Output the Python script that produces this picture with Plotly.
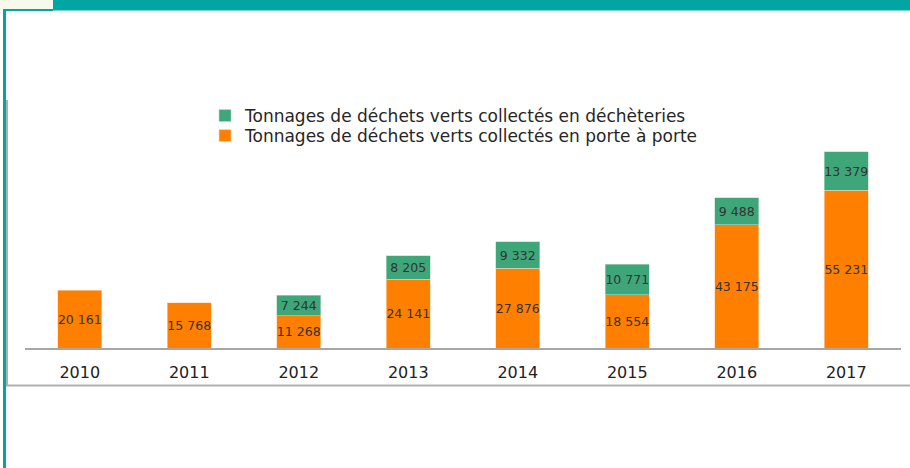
import plotly.graph_objects as go

# Tonnages of green waste collected per year
years = ["2010", "2011", "2012", "2013", "2014", "2015", "2016", "2017"]
porte_a_porte = [20161, 15768, 11268, 24141, 27876, 18554, 43175, 55231]
decheteries = [None, None, 7244, 8205, 9332, 10771, 9488, 13379]

name_pap = "Tonnages de déchets verts collectés en porte à porte"
name_dech = "Tonnages de déchets verts collectés en déchèteries"

ORANGE = "#ff7f00"
GREEN = "#3fa679"
TEAL = "#00a6a2"
LABEL = "#333333"
FONT = "DejaVu Sans"

W, H = 910, 468
ML, MR, MT, MB = 25, 9, 148, 120
PW, PH = W - ML - MR, H - MT - MB


def px(x):
    return (x - ML) / PW


def py(y):
    return (H - MB - y) / PH


fig = go.Figure()
fig.add_trace(go.Bar(
    x=years, y=porte_a_porte, name=name_pap, legend="legend2",
    marker=dict(color=ORANGE, line=dict(color="#ffd9b0", width=0.6)),
    texttemplate="%{y:,}", textposition="inside", insidetextanchor="middle",
    textangle=0, constraintext="none",
    textfont=dict(family=FONT, size=12.5, color=LABEL),
    hoverinfo="skip",
))
fig.add_trace(go.Bar(
    x=years, y=decheteries, name=name_dech, legend="legend",
    marker=dict(color=GREEN, line=dict(color="#b5dcc9", width=0.6)),
    texttemplate="%{y:,}", textposition="inside", insidetextanchor="middle",
    textangle=0, constraintext="none",
    textfont=dict(family=FONT, size=12.5, color=LABEL),
    hoverinfo="skip",
))

shapes = [
    # teal page frame
    dict(type="rect", xref="paper", yref="paper", x0=px(0), x1=px(53), y0=py(9), y1=py(0),
         fillcolor="#f7f9ec", line_width=0, layer="below"),
    dict(type="rect", xref="paper", yref="paper", x0=px(53), x1=px(910), y0=py(10.5), y1=py(0),
         fillcolor=TEAL, line_width=0),
    dict(type="rect", xref="paper", yref="paper", x0=px(3), x1=px(53), y0=py(11), y1=py(9),
         fillcolor=TEAL, line_width=0),
    dict(type="rect", xref="paper", yref="paper", x0=px(3), x1=px(6), y0=py(468), y1=py(9),
         fillcolor=TEAL, line_width=0),
    # grey chart border (left and bottom)
    dict(type="line", xref="paper", yref="paper", x0=px(7), x1=px(7), y0=py(386), y1=py(100),
         line=dict(color="#b0b0b0", width=2)),
    dict(type="line", xref="paper", yref="paper", x0=px(6), x1=px(910), y0=py(385.5), y1=py(385.5),
         line=dict(color="#b0b0b0", width=2)),
]

legend_style = dict(
    xanchor="left", yanchor="top", orientation="v",
    font=dict(family=FONT, size=17, color="#262626"),
    itemwidth=30, bgcolor="rgba(0,0,0,0)",
)

fig.update_layout(
    width=W, height=H,
    margin=dict(l=ML, r=MR, t=MT, b=MB),
    paper_bgcolor="white", plot_bgcolor="white",
    barmode="stack", bargap=0.6,
    separators=", ",
    font=dict(family=FONT, color="#222222"),
    showlegend=True,
    legend=dict(x=px(205), y=py(98), **legend_style),
    legend2=dict(x=px(205), y=py(118), **legend_style),
    xaxis=dict(
        type="category", showgrid=False, ticks="outside", ticklen=9,
        tickcolor="rgba(0,0,0,0)", showline=True,
        linecolor="#a6a6a6", linewidth=2,
        tickfont=dict(family=FONT, size=16, color="#222222"),
        fixedrange=True,
    ),
    yaxis=dict(range=[0, 70000], visible=False, fixedrange=True),
    shapes=shapes,
)

fig.write_html("out.html")
